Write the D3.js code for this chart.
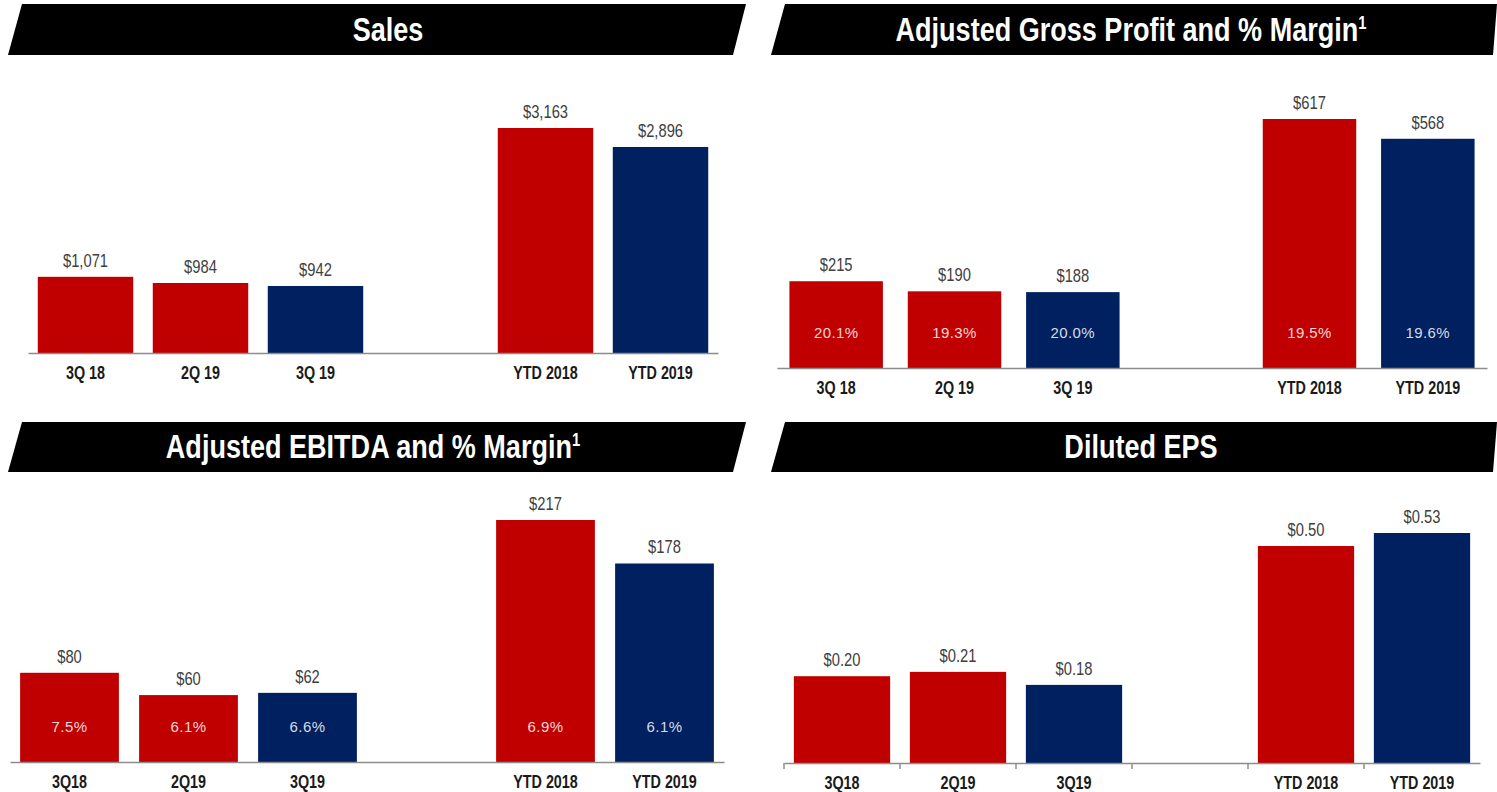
<!DOCTYPE html>
<html>
<head>
<meta charset="utf-8">
<script src="https://cdn.jsdelivr.net/npm/d3@7"></script>
<style>
  html, body { margin: 0; padding: 0; background: #ffffff; }
  svg { display: block; }
  text { font-family: "Liberation Sans", Arial, sans-serif; }
</style>
</head>
<body>
<svg id="chart" width="1497" height="792"></svg>
<script>
// Period labels (two spellings are used on the slide)
const periodsSpaced  = ["3Q 18", "2Q 19", "3Q 19", "YTD 2018", "YTD 2019"];
const periodsCompact = ["3Q18", "2Q19", "3Q19", "YTD 2018", "YTD 2019"];
// Current-period bars are shown in navy, comparison periods in red
const isCurrentPeriod = [false, false, true, false, true];

// Sales ($ millions)
const salesValues = [1071, 984, 942, 3163, 2896];
// Adjusted gross profit ($ millions) and margin (%)
const grossProfitValues = [215, 190, 188, 617, 568];
const grossMarginPct    = [20.1, 19.3, 20.0, 19.5, 19.6];
// Adjusted EBITDA ($ millions) and margin (%)
const ebitdaValues    = [80, 60, 62, 217, 178];
const ebitdaMarginPct = [7.5, 6.1, 6.6, 6.9, 6.1];
// Diluted EPS ($)
const epsValues = [0.20, 0.21, 0.18, 0.50, 0.53];

const RED = "#C00000", NAVY = "#002060";
const GAP = " "; // empty slot between quarterly and YTD groups
const NARROW = 0.82; // horizontal squeeze giving a narrow typeface look

const fmtDollars = d => "$" + d3.format(",")(d);
const fmtEps = d => "$" + d3.format(".2f")(d);
const fmtPct = d => d3.format(".1f")(d) + "%";

const panels = [
  { title: "Sales", sup: "", titleX: 388, headerLeft: 8, headerRight: 746, headerTop: 4, headerBottom: 55,
    labels: periodsSpaced, values: salesValues, fmt: fmtDollars, pct: null,
    range: [28, 718], axisY: 353, maxY: 128, pad: 0.17, boundaryTicks: false },
  { title: "Adjusted Gross Profit and % Margin", sup: "1", titleX: 1131, headerLeft: 771, headerRight: 1497, headerTop: 4, headerBottom: 55,
    labels: periodsSpaced, values: grossProfitValues, fmt: fmtDollars, pct: grossMarginPct,
    range: [777, 1487], axisY: 368, maxY: 119, pad: 0.21, boundaryTicks: false },
  { title: "Adjusted EBITDA and % Margin", sup: "1", titleX: 373, headerLeft: 8, headerRight: 746, headerTop: 422, headerBottom: 472,
    labels: periodsCompact, values: ebitdaValues, fmt: fmtDollars, pct: ebitdaMarginPct,
    range: [10, 724], axisY: 762, maxY: 520, pad: 0.17, boundaryTicks: false },
  { title: "Diluted EPS", sup: "", titleX: 1141, headerLeft: 771, headerRight: 1497, headerTop: 422, headerBottom: 472,
    labels: periodsCompact, values: epsValues, fmt: fmtEps, pct: null,
    range: [784, 1480], axisY: 763, maxY: 533, pad: 0.17, boundaryTicks: true }
];

const svg = d3.select("#chart");
const slant = 13;

panels.forEach(p => {
  const g = svg.append("g");

  // Slanted black title banner
  const h = p.headerBottom, t = p.headerTop;
  const banner = d3.path();
  banner.moveTo(p.headerLeft, h);
  banner.lineTo(p.headerLeft + slant + 1, t);
  banner.lineTo(p.headerRight, t);
  banner.lineTo(p.headerRight >= 1497 ? 1493 : p.headerRight - slant, h);
  banner.closePath();
  g.append("path").attr("d", banner.toString()).attr("fill", "#000");

  const title = g.append("text")
    .attr("transform", `translate(${p.titleX},${(t + h) / 2 + 11}) scale(${NARROW},1)`)
    .attr("text-anchor", "middle")
    .attr("fill", "#ffffff")
    .attr("font-size", 33)
    .attr("font-weight", "bold")
    .text(p.title);
  if (p.sup) {
    title.append("tspan").attr("font-size", 18).attr("dy", -12).text(p.sup);
  }

  // Band scale with an empty slot separating quarters from YTD
  const domain = [p.labels[0], p.labels[1], p.labels[2], GAP, p.labels[3], p.labels[4]];
  const x = d3.scaleBand().domain(domain).range(p.range).paddingInner(p.pad).paddingOuter(p.pad / 2);
  const maxV = d3.max(p.values);
  const y = d3.scaleLinear().domain([0, maxV]).range([p.axisY, p.maxY]);

  const rows = p.values.map((v, i) => ({ label: p.labels[i], value: v, current: isCurrentPeriod[i], pct: p.pct ? p.pct[i] : null }));

  g.selectAll("rect.bar").data(rows).join("rect")
    .attr("class", "bar")
    .attr("x", d => x(d.label))
    .attr("width", x.bandwidth())
    .attr("y", d => y(d.value))
    .attr("height", d => y(0) - y(d.value))
    .attr("fill", d => d.current ? NAVY : RED);

  // Value labels above bars
  g.selectAll("text.val").data(rows).join("text")
    .attr("class", "val")
    .attr("transform", d => `translate(${x(d.label) + x.bandwidth() / 2},${y(d.value) - 10}) scale(${NARROW},1)`)
    .attr("text-anchor", "middle")
    .attr("font-size", 18)
    .attr("fill", "#404040")
    .text(d => p.fmt(d.value));

  // Margin labels inside bars
  if (p.pct) {
    g.selectAll("text.pct").data(rows).join("text")
      .attr("class", "pct")
      .attr("x", d => x(d.label) + x.bandwidth() / 2)
      .attr("y", p.axisY - 30)
      .attr("text-anchor", "middle")
      .attr("font-size", 15)
      .attr("letter-spacing", 0.4)
      .attr("fill", "#ffffff")
      .attr("fill-opacity", 0.85)
      .text(d => fmtPct(d.pct));
  }

  // Category axis
  const axis = d3.axisBottom(x).tickSize(0).tickPadding(0).tickFormat(d => d === GAP ? "" : d);
  const ax = g.append("g").attr("transform", `translate(0,${p.axisY})`).call(axis);
  ax.select(".domain").attr("stroke", "#8c8c8c").attr("stroke-width", 1.5);
  ax.selectAll(".tick text")
    .attr("dy", 0)
    .attr("y", 0)
    .attr("transform", `translate(0,26) scale(${NARROW},1)`)
    .attr("font-family", "Liberation Sans, Arial, sans-serif")
    .attr("font-size", 17.5)
    .attr("font-weight", "bold")
    .attr("fill", "#1a1a1a");

  if (p.boundaryTicks) {
    const step = x.step();
    const bounds = d3.range(6).map(i => p.range[0] + i * step);
    g.selectAll("line.bound").data(bounds).join("line")
      .attr("class", "bound")
      .attr("x1", d => d).attr("x2", d => d)
      .attr("y1", p.axisY).attr("y2", p.axisY + 6)
      .attr("stroke", "#8c8c8c").attr("stroke-width", 1.5);
  }
});
</script>
</body>
</html>
